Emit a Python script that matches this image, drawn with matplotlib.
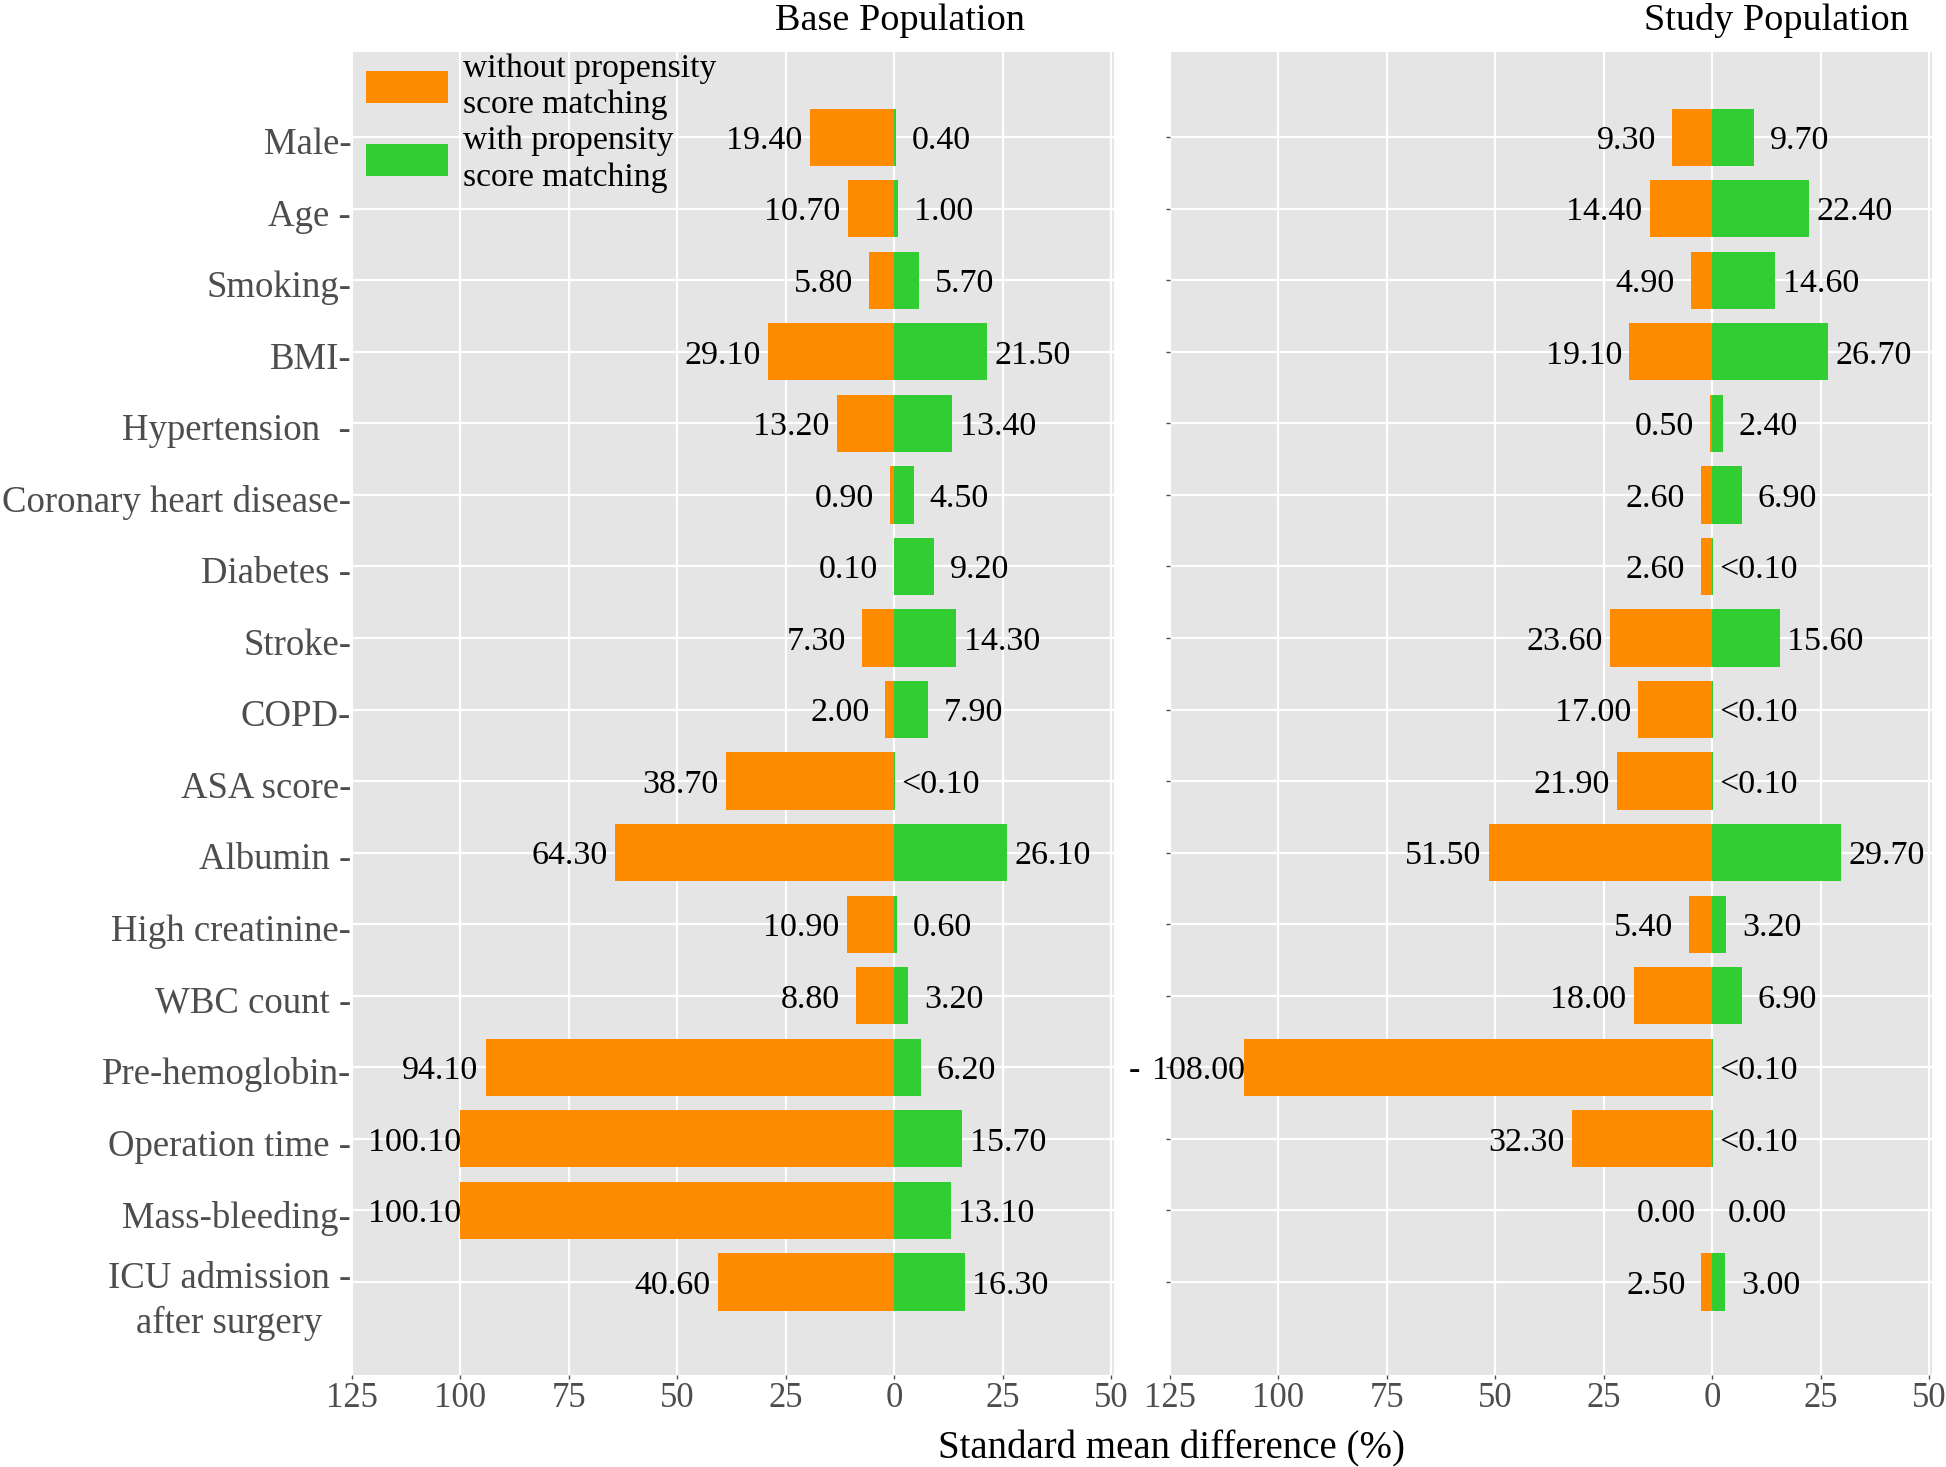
import numpy as np
import matplotlib.pyplot as plt
import matplotlib.transforms as mtransforms
from matplotlib.patches import Patch

plt.rcParams['font.family'] = ['Liberation Serif', 'DejaVu Serif']

# categories as they appear in the chart (dashes are part of the labels)
categories = ["Male-", "Age -", "Smoking-", "BMI-", "Hypertension  -",
              "Coronary heart disease-", "Diabetes -", "Stroke-", "COPD-",
              "ASA score-", "Albumin -", "High creatinine-", "WBC count -",
              "Pre-hemoglobin-", "Operation time -", "Mass-bleeding-",
              "ICU admission -\nafter surgery"]

# standard mean differences (%)
base_without = ["19.40", "10.70", "5.80", "29.10", "13.20", "0.90", "0.10", "7.30", "2.00",
                "38.70", "64.30", "10.90", "8.80", "94.10", "100.10", "100.10", "40.60"]
base_with = ["0.40", "1.00", "5.70", "21.50", "13.40", "4.50", "9.20", "14.30", "7.90",
             "<0.10", "26.10", "0.60", "3.20", "6.20", "15.70", "13.10", "16.30"]
study_without = ["9.30", "14.40", "4.90", "19.10", "0.50", "2.60", "2.60", "23.60", "17.00",
                 "21.90", "51.50", "5.40", "18.00", "- 108.00", "32.30", "0.00", "2.50"]
study_with = ["9.70", "22.40", "14.60", "26.70", "2.40", "6.90", "<0.10", "15.60", "<0.10",
              "<0.10", "29.70", "3.20", "6.90", "<0.10", "<0.10", "0.00", "3.00"]

xticks = [-125, -100, -75, -50, -25, 0, 25, 50]
panel_titles = ["Base Population", "Study Population"]
legend_labels = ["without propensity\nscore matching", "with propensity\nscore matching"]

ORANGE = '#FF8C00'
GREEN = '#32CD32'
PANEL = '#E5E5E5'


def a_numero(etiquetas):
    # "<0.10" -> 0.10, "- 108.00" -> 108.00
    return np.array([float(s.replace('<', '').replace('-', '').strip()) for s in etiquetas])


W, H = 1946, 1467
fig = plt.figure(figsize=(W / 100, H / 100), dpi=100)

top, bottom = 52, 1375
ax1 = fig.add_axes([352 / W, 1 - bottom / H, (1114 - 352) / W, (bottom - top) / H])
ax2 = fig.add_axes([1170 / W, 1 - bottom / H, (1932 - 1170) / W, (bottom - top) / H])

y = np.arange(len(categories))
desplaz = 10.5  # distancia del centro de la etiqueta al extremo de la barra

for ax, sin_psm, con_psm in [(ax1, base_without, base_with), (ax2, study_without, study_with)]:
    v_sin = a_numero(sin_psm)
    v_con = a_numero(con_psm)
    ax.set_facecolor(PANEL)
    ax.barh(y, -v_sin, height=0.8, color=ORANGE, zorder=2)
    ax.barh(y, v_con, height=0.8, color=GREEN, zorder=2)
    for i in range(len(y)):
        txt = sin_psm[i]
        prefijo = txt.startswith('- ')
        if prefijo:
            txt = txt[2:]
        t = ax.text(-v_sin[i] - desplaz, y[i], txt, ha='center', va='center_baseline',
                    fontsize=24.5, color='black', clip_on=False, zorder=3)
        if prefijo:
            # guion suelto a la izquierda del numero, como en la figura original
            ax.annotate('-', xy=(0, 0.5), xycoords=t, xytext=(-8, 0), textcoords='offset points',
                        ha='right', va='center', fontsize=24.5, color='black', annotation_clip=False)
        ax.text(v_con[i] + desplaz, y[i], con_psm[i], ha='center', va='center_baseline',
                fontsize=24.5, color='black', clip_on=False, zorder=3)
    ax.set_xlim(-125, 50.7)
    ax.set_ylim(len(y) - 1 + 1.3, -1.19)
    ax.set_xticks(xticks)
    ax.set_xticklabels([str(abs(t)) for t in xticks], fontsize=25, color='#4D4D4D')
    ax.tick_params(axis='x', length=3, width=1, color='#4D4D4D', pad=2)
    ax.set_yticks(y)
    ax.set_yticklabels([])
    ax.set_axisbelow(True)
    ax.grid(True, color='white', linewidth=1.6)
    for s in ax.spines.values():
        s.set_visible(False)

ax1.tick_params(axis='y', length=0)
ax2.tick_params(axis='y', length=3, width=1, color='#4D4D4D')

# nombres de las variables a la izquierda
trans = mtransforms.blended_transform_factory(ax1.transAxes, ax1.transData)
for i, cat in enumerate(categories):
    if '\n' in cat:
        ax1.text(-0.001, y[i] - 0.28, cat, transform=trans, ha='right', va='top',
                 multialignment='center', linespacing=1.35, fontsize=26.5, color='#4D4D4D')
    else:
        ax1.text(-0.001, y[i] + 0.05, cat, transform=trans, ha='right', va='center_baseline',
                 fontsize=26.5, color='#4D4D4D')

handles = [Patch(facecolor=ORANGE), Patch(facecolor=GREEN)]
leg = ax1.legend(handles, legend_labels, loc='upper left', bbox_to_anchor=(14 / 762, 1 - 1 / 1323),
                 frameon=False, fontsize=24.2, handlelength=2.45, handleheight=1.1,
                 labelspacing=0.17, handletextpad=0.45, borderpad=0, borderaxespad=0)
for t in leg.get_texts():
    t.set_linespacing(1.26)

fig.text(900 / W, 1 - 30 / H, panel_titles[0], ha='center', va='baseline', fontsize=27.5)
fig.text(1776 / W, 1 - 30 / H, panel_titles[1], ha='center', va='baseline', fontsize=27.5)
fig.text(1171 / W, 1 - 1458 / H, 'Standard mean difference (%)', ha='center', va='baseline',
         fontsize=28)

fig.savefig('out.png', dpi=100)
